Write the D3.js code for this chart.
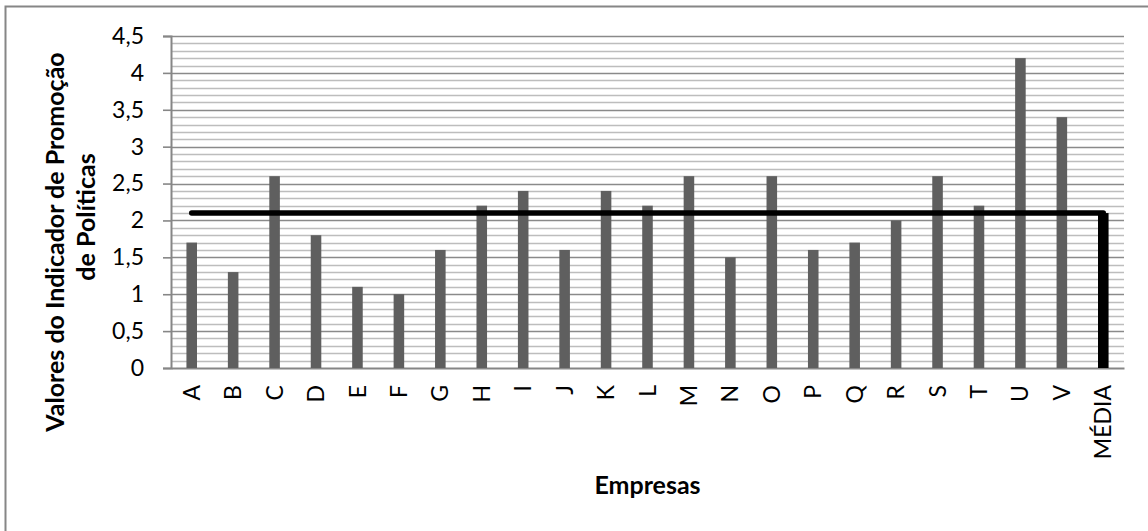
<!DOCTYPE html>
<html>
<head>
<meta charset="utf-8">
<script src="https://cdn.jsdelivr.net/npm/d3@7"></script>
<style>
  html, body { margin: 0; padding: 0; background: #fff; }
  svg { display: block; }
</style>
</head>
<body>
<svg id="chart" width="1148" height="531"></svg>
<script>
// Indicador de Promoção de Políticas por empresa
const empresas = ["A","B","C","D","E","F","G","H","I","J","K","L","M","N","O","P","Q","R","S","T","U","V","MÉDIA"];
const valores  = [1.7,1.3,2.6,1.8,1.1,1.0,1.6,2.2,2.4,1.6,2.4,2.2,2.6,1.5,2.6,1.6,1.7,2.0,2.6,2.2,4.2,3.4,2.1];
const mediaGeral = [2.1,2.1,2.1,2.1,2.1,2.1,2.1,2.1,2.1,2.1,2.1,2.1,2.1,2.1,2.1,2.1,2.1,2.1,2.1,2.1,2.1,2.1,2.1];
const ticksY = [0,0.5,1,1.5,2,2.5,3,3.5,4,4.5];
const tituloY = ["Valores do Indicador de Promoção", "de Políticas"];
const tituloX = "Empresas";

const svg = d3.select("#chart");
const font = "Lato, 'Open Sans', sans-serif";

// outer chart frame
svg.append("rect")
  .attr("x", 5.5).attr("y", 6.5)
  .attr("width", 1160).attr("height", 540)
  .attr("fill", "#fff").attr("stroke", "#868686").attr("stroke-width", 2);

const plot = { left: 171, right: 1124, top: 36, bottom: 368 };

const x = d3.scaleBand()
  .domain(empresas)
  .range([plot.left, plot.right])
  .paddingInner(0.745).paddingOuter(0.3725);

const y = d3.scaleLinear().domain([0, 4.5]).range([plot.bottom, plot.top]);

// minor gridlines every 0.1
const minor = d3.range(1, 45).filter(i => i % 5 !== 0).map(i => i / 10);
svg.append("g").selectAll("line").data(minor).join("line")
  .attr("x1", plot.left).attr("x2", plot.right)
  .attr("y1", d => Math.round(y(d)) + 0.5).attr("y2", d => Math.round(y(d)) + 0.5)
  .attr("stroke", "#bdbdbd").attr("stroke-width", 1.6);

// major gridlines
svg.append("g").selectAll("line").data(ticksY.filter(d => d > 0)).join("line")
  .attr("x1", plot.left).attr("x2", plot.right)
  .attr("y1", d => Math.round(y(d)) + 0.5).attr("y2", d => Math.round(y(d)) + 0.5)
  .attr("stroke", "#8a8a8a").attr("stroke-width", 1.6);

// y axis
const yAxis = d3.axisLeft(y).tickValues(ticksY)
  .tickFormat(d => String(d).replace(".", ","))
  .tickSize(8).tickPadding(19);
const gy = svg.append("g").attr("transform", `translate(${plot.left},0)`).call(yAxis);
gy.select(".domain").attr("stroke", "#868686").attr("stroke-width", 2);
gy.selectAll(".tick line").attr("stroke", "#868686").attr("stroke-width", 1.6);
gy.selectAll(".tick text").attr("font-family", font).attr("font-size", 23).attr("fill", "#000");

// x axis
const xAxis = d3.axisBottom(x).tickSize(0).tickPadding(0);
const gx = svg.append("g").attr("transform", `translate(0,${plot.bottom})`).call(xAxis);
gx.select(".domain").attr("stroke", "#868686").attr("stroke-width", 2);
gx.selectAll(".tick text")
  .attr("font-family", font).attr("font-size", 23).attr("fill", "#000")
  .attr("text-anchor", "end")
  .attr("transform", "rotate(-90)")
  .attr("x", -17).attr("y", 0).attr("dy", "0.35em");

// bars
svg.append("g").selectAll("rect").data(empresas).join("rect")
  .attr("x", d => x(d))
  .attr("width", x.bandwidth())
  .attr("y", (d, i) => y(valores[i]))
  .attr("height", (d, i) => y(0) - y(valores[i]))
  .attr("fill", d => d === "MÉDIA" ? "#000" : "#5f5f5f");

// average line
const linha = d3.line()
  .x(d => x(d.cat) + x.bandwidth() / 2)
  .y(d => y(d.v));
svg.append("path")
  .datum(empresas.map((c, i) => ({ cat: c, v: mediaGeral[i] })))
  .attr("d", linha)
  .attr("fill", "none").attr("stroke", "#000")
  .attr("stroke-width", 5.5).attr("stroke-linecap", "round").attr("stroke-linejoin", "round");

// axis titles
const ty = svg.append("text")
  .attr("transform", "translate(0,242) rotate(-90)")
  .attr("font-family", font).attr("font-size", 25).attr("font-weight", "bold")
  .attr("text-anchor", "middle").attr("fill", "#000");
tituloY.forEach((t, i) => ty.append("tspan").attr("x", i * 25).attr("y", 64 + i * 31).text(t));

svg.append("text")
  .attr("x", (plot.left + plot.right) / 2).attr("y", 494)
  .attr("font-family", font).attr("font-size", 25).attr("font-weight", "bold")
  .attr("text-anchor", "middle").attr("fill", "#000")
  .text(tituloX);
</script>
</body>
</html>
